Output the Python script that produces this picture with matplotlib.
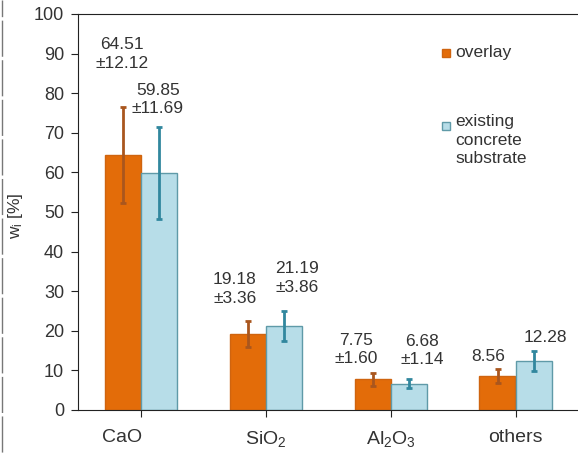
import matplotlib
matplotlib.use("Agg")
import matplotlib.pyplot as plt
import matplotlib.transforms as mtransforms
import numpy as np
from matplotlib.lines import Line2D
from matplotlib.patches import Rectangle

# data
categories = ["CaO", r"SiO$\mathregular{_2}$", r"Al$\mathregular{_2}$O$\mathregular{_3}$", "others"]
overlay_mean = [64.51, 19.18, 7.75, 8.56]
overlay_sd = [12.12, 3.36, 1.60, 1.80]
substrate_mean = [59.85, 21.19, 6.68, 12.28]
substrate_sd = [11.69, 3.86, 1.14, 2.50]
show_sd = [True, True, True, False]

# label placement (x offset from category centre, y in data units)
overlay_lbl = [(-0.148, 89.9), (-0.244, 30.6), (-0.276, 15.3), (-0.22, 13.4)]
substrate_lbl = [(0.14, 78.4), (0.252, 33.3), (0.252, 15.0), (0.236, 18.4)]

txt = "#333333"
plt.rcParams['font.family'] = ['Liberation Sans', 'DejaVu Sans']
plt.rcParams['font.size'] = 12.5

fig = plt.figure(figsize=(5.78, 4.55), dpi=100)
ax = fig.add_axes([78 / 578, 45 / 455, 500 / 578, 396 / 455])

x = np.arange(len(categories))
w = 0.288
ax.bar(x - w / 2, overlay_mean, w, color="#e36c09", edgecolor="#cf640f", linewidth=1)
ax.bar(x + w / 2, substrate_mean, w, color="#b7dde8", edgecolor="#5f9aa8", linewidth=1)
ax.errorbar(x - w / 2, overlay_mean, yerr=overlay_sd, fmt="none", ecolor="#a9561e",
            elinewidth=2, capsize=2.5, capthick=2)
ax.errorbar(x + w / 2, substrate_mean, yerr=substrate_sd, fmt="none", ecolor="#31879e",
            elinewidth=2, capsize=2.5, capthick=2)

for i in range(len(categories)):
    if show_sd[i]:
        t1 = f"{overlay_mean[i]:.2f}\n±{overlay_sd[i]:.2f}"
        t2 = f"{substrate_mean[i]:.2f}\n±{substrate_sd[i]:.2f}"
    else:
        t1 = f"{overlay_mean[i]:.2f}"
        t2 = f"{substrate_mean[i]:.2f}"
    ax.text(x[i] + overlay_lbl[i][0], overlay_lbl[i][1], t1, ha="center", va="center",
            linespacing=1.3, color=txt)
    ax.text(x[i] + substrate_lbl[i][0], substrate_lbl[i][1], t2, ha="center", va="center",
            linespacing=1.3, color=txt)

ax.set_xlim(-0.5, 3.5)
ax.set_ylim(0, 100)
ax.set_yticks(np.arange(0, 101, 10))
ax.set_xticks(x)
ax.set_xticklabels(categories, fontsize=14)
ax.tick_params(axis="y", direction="out", length=5, pad=5, labelsize=13,
               color="#222222", labelcolor=txt)
ax.tick_params(axis="x", direction="out", length=5, pad=9,
               color="#222222", labelcolor=txt)
# the first category label sits a little to the left in the original
lbl0 = ax.get_xticklabels()[0]
lbl0.set_transform(lbl0.get_transform() + mtransforms.ScaledTranslation(-18 / 100, 0, fig.dpi_scale_trans))
ax.spines["right"].set_visible(False)
for s in ["left", "bottom", "top"]:
    ax.spines[s].set_color("#222222")
ax.set_ylabel(r"$\mathregular{w_i}$ [%]", color=txt)
ax.yaxis.set_label_coords(-0.106, 0.49)

# legend drawn by hand
fig.patches.append(Rectangle((442 / 578, 1 - 57 / 455), 8 / 578, 8 / 455,
                             transform=fig.transFigure, facecolor="#e36c09",
                             edgecolor="#cf640f", linewidth=1))
fig.text(455 / 578, 1 - 52 / 455, "overlay", va="center", color=txt)
fig.patches.append(Rectangle((442 / 578, 1 - 130 / 455), 8 / 578, 8 / 455,
                             transform=fig.transFigure, facecolor="#b7dde8",
                             edgecolor="#5f9aa8", linewidth=1))
fig.text(455 / 578, 1 - 114 / 455, "existing\nconcrete\nsubstrate", va="top",
         linespacing=1.3, color=txt)

# dashed border at the left edge
fig.lines.append(Line2D([1.5 / 578, 1.5 / 578], [1, 0], transform=fig.transFigure,
                        color="#777777", linewidth=1, linestyle=(14, (26, 2.5))))

fig.savefig("out.png", dpi=100)
